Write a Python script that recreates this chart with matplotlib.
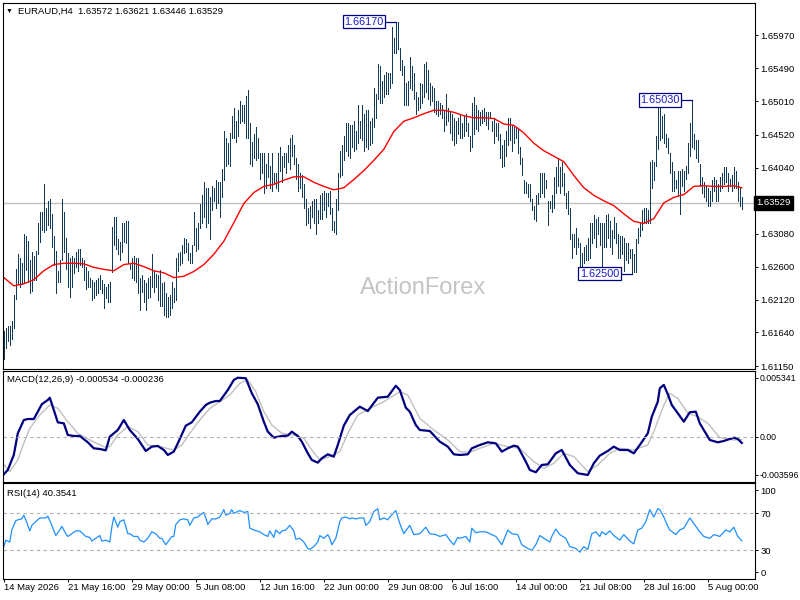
import matplotlib
matplotlib.use("agg")
import matplotlib.pyplot as plt

plt.rcParams['font.family'] = ['Liberation Sans', 'DejaVu Sans']

SYMBOL = "EURAUD,H4"
LAST_OHLC = ["1.63572", "1.63621", "1.63446", "1.63529"]
LAST_CLOSE = 1.63529

# H4 bars, high / low (370 bars)
HIGH = [
    1.6166, 1.6170, 1.6173, 1.6173, 1.6181, 1.6218, 1.6257, 1.6279, 1.6272, 1.6266,
    1.6307, 1.6304, 1.6298, 1.6269, 1.6282, 1.6275, 1.6283, 1.6324, 1.6340, 1.6339,
    1.6381, 1.6346, 1.6355, 1.6359, 1.6337, 1.6304, 1.6283, 1.6253, 1.6270, 1.6359,
    1.6340, 1.6302, 1.6280, 1.6272, 1.6275, 1.6273, 1.6282, 1.6285, 1.6286, 1.6273,
    1.6269, 1.6259, 1.6253, 1.6244, 1.6241, 1.6237, 1.6241, 1.6243, 1.6248, 1.6240,
    1.6234, 1.6230, 1.6234, 1.6238, 1.6318, 1.6332, 1.6332, 1.6301, 1.6296, 1.6324,
    1.6323, 1.6326, 1.6326, 1.6265, 1.6272, 1.6275, 1.6273, 1.6273, 1.6244, 1.6248,
    1.6241, 1.6236, 1.6243, 1.6246, 1.6278, 1.6253, 1.6250, 1.6248, 1.6255, 1.6236,
    1.6237, 1.6221, 1.6216, 1.6219, 1.6238, 1.6229, 1.6272, 1.6280, 1.6282, 1.6292,
    1.6302, 1.6301, 1.6294, 1.6280,
    1.6291, 1.6339, 1.6317, 1.6324, 1.6352, 1.6365, 1.6383, 1.6375, 1.6375, 1.6361,
    1.6378, 1.6374, 1.6386, 1.6383, 1.6383, 1.6403, 1.6458, 1.6448, 1.6440, 1.6455,
    1.6480, 1.6491, 1.6473, 1.6489, 1.6501, 1.6496, 1.6495, 1.6509, 1.6517, 1.6470,
    1.6441, 1.6454, 1.6463, 1.6448, 1.6426, 1.6425, 1.6426, 1.6410, 1.6425, 1.6407,
    1.6426, 1.6396, 1.6397, 1.6426, 1.6435, 1.6421, 1.6426, 1.6425, 1.6437, 1.6447,
    1.6452, 1.6437, 1.6419, 1.6410, 1.6396, 1.6393, 1.6381, 1.6359, 1.6345, 1.6349,
    1.6356, 1.6359, 1.6359, 1.6343, 1.6364, 1.6368, 1.6371, 1.6367, 1.6368, 1.6371,
    1.6346, 1.6327, 1.6359, 1.6396, 1.6429, 1.6437, 1.6451, 1.6470, 1.6469, 1.6466,
    1.6467, 1.6473, 1.6458, 1.6495, 1.6473, 1.6496, 1.6483, 1.6488, 1.6489, 1.6473,
    1.6476, 1.6521, 1.6512, 1.6556,
    1.6553, 1.6531, 1.6539, 1.6544, 1.6543, 1.6542, 1.6609, 1.6593, 1.6617, 1.6616,
    1.6579, 1.6561, 1.6553, 1.6528, 1.6531, 1.6565, 1.6553, 1.6542, 1.6514, 1.6507,
    1.6528, 1.6527, 1.6556, 1.6558, 1.6546, 1.6528, 1.6524, 1.6521, 1.6502, 1.6502,
    1.6499, 1.6495, 1.6488, 1.6512, 1.6491, 1.6485, 1.6483, 1.6476, 1.6473, 1.6477,
    1.6483, 1.6470, 1.6480, 1.6483, 1.6470, 1.6451, 1.6499, 1.6507, 1.6495, 1.6488,
    1.6485, 1.6488, 1.6491, 1.6486, 1.6485, 1.6485, 1.6473, 1.6476, 1.6470, 1.6469,
    1.6454, 1.6437, 1.6444, 1.6458, 1.6477, 1.6476, 1.6466, 1.6463, 1.6463, 1.6461,
    1.6434, 1.6419, 1.6386, 1.6383, 1.6381, 1.6381, 1.6359, 1.6349, 1.6364, 1.6368,
    1.6396, 1.6396, 1.6396, 1.6386, 1.6356, 1.6356, 1.6364, 1.6390, 1.6405, 1.6419,
    1.6405, 1.6412, 1.6397, 1.6368,
    1.6371, 1.6345, 1.6308, 1.6308, 1.6317, 1.6302, 1.6294, 1.6280, 1.6288, 1.6291,
    1.6302, 1.6323, 1.6324, 1.6335, 1.6330, 1.6332, 1.6324, 1.6323, 1.6323, 1.6335,
    1.6337, 1.6327, 1.6313, 1.6332, 1.6324, 1.6308, 1.6305, 1.6305, 1.6302, 1.6294,
    1.6294, 1.6286, 1.6286, 1.6279, 1.6301, 1.6317, 1.6324, 1.6342, 1.6346, 1.6345,
    1.6342, 1.6412, 1.6415, 1.6412, 1.6451, 1.6492, 1.6491, 1.6480, 1.6483, 1.6454,
    1.6448, 1.6426, 1.6412, 1.6400, 1.6386, 1.6400, 1.6400, 1.6403, 1.6400, 1.6407,
    1.6440, 1.6470, 1.6503, 1.6454, 1.6444, 1.6444, 1.6410, 1.6390, 1.6383, 1.6378,
    1.6375, 1.6371, 1.6386, 1.6390, 1.6386, 1.6381, 1.6390, 1.6396, 1.6405, 1.6405,
    1.6396, 1.6388, 1.6393, 1.6405, 1.6400, 1.6383, 1.6375, 1.63621,
]
LOW = [
    1.6125, 1.6141, 1.6151, 1.6146, 1.6155, 1.6170, 1.6213, 1.6234, 1.6230, 1.6234,
    1.6237, 1.6255, 1.6238, 1.6222, 1.6225, 1.6241, 1.6240, 1.6279, 1.6296, 1.6313,
    1.6310, 1.6314, 1.6321, 1.6316, 1.6288, 1.6263, 1.6222, 1.6237, 1.6238, 1.6269,
    1.6282, 1.6257, 1.6230, 1.6216, 1.6231, 1.6251, 1.6260, 1.6254, 1.6263, 1.6259,
    1.6240, 1.6228, 1.6230, 1.6231, 1.6212, 1.6215, 1.6219, 1.6222, 1.6227, 1.6221,
    1.6200, 1.6215, 1.6209, 1.6209, 1.6252, 1.6292, 1.6286, 1.6279, 1.6269, 1.6282,
    1.6296, 1.6295, 1.6265, 1.6256, 1.6243, 1.6240, 1.6238, 1.6222, 1.6197, 1.6223,
    1.6209, 1.6197, 1.6215, 1.6216, 1.6230, 1.6223, 1.6230, 1.6211, 1.6202, 1.6202,
    1.6190, 1.6187, 1.6187, 1.6190, 1.6200, 1.6209, 1.6212, 1.6253, 1.6263, 1.6266,
    1.6280, 1.6282, 1.6270, 1.6265,
    1.6266, 1.6291, 1.6283, 1.6286, 1.6317, 1.6324, 1.6332, 1.6318, 1.6323, 1.6300,
    1.6342, 1.6356, 1.6346, 1.6353, 1.6332, 1.6361, 1.6386, 1.6407, 1.6410, 1.6407,
    1.6447, 1.6448, 1.6441, 1.6451, 1.6469, 1.6473, 1.6470, 1.6448, 1.6448, 1.6410,
    1.6407, 1.6419, 1.6415, 1.6419, 1.6388, 1.6397, 1.6368, 1.6375, 1.6390, 1.6375,
    1.6371, 1.6381, 1.6375, 1.6371, 1.6400, 1.6383, 1.6405, 1.6396, 1.6412, 1.6403,
    1.6422, 1.6410, 1.6388, 1.6371, 1.6375, 1.6361, 1.6346, 1.6320, 1.6323, 1.6317,
    1.6332, 1.6323, 1.6307, 1.6323, 1.6330, 1.6330, 1.6342, 1.6332, 1.6349, 1.6337,
    1.6313, 1.6310, 1.6308, 1.6342, 1.6390, 1.6393, 1.6415, 1.6429, 1.6422, 1.6419,
    1.6434, 1.6429, 1.6432, 1.6440, 1.6447, 1.6444, 1.6429, 1.6434, 1.6432, 1.6437,
    1.6440, 1.6463, 1.6477, 1.6505,
    1.6499, 1.6499, 1.6507, 1.6512, 1.6512, 1.6520, 1.6528, 1.6572, 1.6572, 1.6578,
    1.6546, 1.6539, 1.6495, 1.6495, 1.6495, 1.6521, 1.6517, 1.6505, 1.6483, 1.6488,
    1.6491, 1.6499, 1.6507, 1.6514, 1.6505, 1.6495, 1.6502, 1.6485, 1.6483, 1.6480,
    1.6483, 1.6476, 1.6458, 1.6466, 1.6473, 1.6455, 1.6444, 1.6437, 1.6440, 1.6454,
    1.6447, 1.6447, 1.6451, 1.6458, 1.6451, 1.6429, 1.6434, 1.6454, 1.6461, 1.6458,
    1.6466, 1.6469, 1.6473, 1.6466, 1.6461, 1.6476, 1.6458, 1.6440, 1.6451, 1.6444,
    1.6419, 1.6405, 1.6407, 1.6422, 1.6437, 1.6444, 1.6429, 1.6440, 1.6447, 1.6426,
    1.6410, 1.6393, 1.6368, 1.6367, 1.6361, 1.6356, 1.6342, 1.6330, 1.6327, 1.6352,
    1.6361, 1.6368, 1.6361, 1.6375, 1.6320, 1.6345, 1.6339, 1.6346, 1.6368, 1.6378,
    1.6367, 1.6378, 1.6364, 1.6346,
    1.6337, 1.6301, 1.6273, 1.6288, 1.6279, 1.6288, 1.6259, 1.6252, 1.6265, 1.6269,
    1.6269, 1.6273, 1.6295, 1.6302, 1.6288, 1.6308, 1.6291, 1.6259, 1.6288, 1.6288,
    1.6302, 1.6288, 1.6279, 1.6302, 1.6294, 1.6273, 1.6273, 1.6279, 1.6253, 1.6269,
    1.6266, 1.6272, 1.6250, 1.6252, 1.6252, 1.6294, 1.6305, 1.6313, 1.6324, 1.6323,
    1.6324, 1.6324, 1.6375, 1.6386, 1.6407, 1.6432, 1.6444, 1.6448, 1.6440, 1.6434,
    1.6426, 1.6397, 1.6371, 1.6371, 1.6375, 1.6364, 1.6337, 1.6378, 1.6371, 1.6388,
    1.6396, 1.6422, 1.6434, 1.6432, 1.6419, 1.6412, 1.6378, 1.6367, 1.6361, 1.6356,
    1.6349, 1.6349, 1.6356, 1.6371, 1.6356, 1.6356, 1.6371, 1.6375, 1.6381, 1.6383,
    1.6371, 1.6378, 1.6371, 1.6375, 1.6374, 1.6356, 1.6349, 1.63446,
]

# red moving average, read every 5 bars
MA_IDX = list(range(0, 366, 5)) + [369]
MA = [
    1.6244, 1.6232, 1.6235, 1.6241, 1.6254, 1.6263, 1.6265, 1.6265, 1.6264, 1.6259,
    1.6256, 1.6254, 1.6263, 1.6265, 1.6260, 1.6254, 1.6251, 1.6244, 1.6246, 1.6253,
    1.6263, 1.6278, 1.6297, 1.6324, 1.6352, 1.6368, 1.6377, 1.6380, 1.6386, 1.6391,
    1.6391, 1.6383, 1.6377, 1.6372, 1.6375, 1.6387, 1.6400, 1.6415, 1.6431, 1.6457,
    1.6472, 1.6477, 1.6483, 1.6488, 1.6488, 1.6485, 1.6480, 1.6477, 1.6477, 1.6476,
    1.6468, 1.6466, 1.6455, 1.6440, 1.6429, 1.6421, 1.6413, 1.6393, 1.6375, 1.6364,
    1.6356, 1.6349, 1.6337, 1.6326, 1.6323, 1.6330, 1.6353, 1.6361, 1.6365, 1.6377,
    1.6378, 1.6377, 1.6377, 1.6378, 1.6375,
]

# MACD(12,26,9) main line
MACD_IDX = [
    0, 2, 5, 7, 10, 12, 15, 17, 19, 22, 23, 25, 27, 30, 32, 35, 38, 42, 45, 48,
    51, 53, 57, 60, 63, 67, 71, 74, 77, 80, 82, 85, 87, 91, 94, 98, 101, 103, 106, 108,
    112, 115, 117, 121, 124, 127, 130, 132, 135, 139, 142, 144, 147, 149, 152, 154, 157, 159, 162, 165,
    167, 170, 173, 178, 182, 187, 192, 196, 198, 201, 203, 206, 208, 213, 218, 222, 225, 228, 232, 234,
    238, 242, 246, 249, 252, 255, 257, 261, 263, 266, 269, 272, 276, 279, 283, 287, 292, 295, 298, 302,
    305, 308, 312, 315, 318, 322, 324, 327, 328, 330, 332, 334, 337, 340, 343, 346, 348, 351, 353, 357,
    360, 365, 367, 369,
]
MACD = [
    -0.00336, -0.00297, -0.00162, 0.00033, 0.00153, 0.00162, 0.00162, 0.00228, 0.00295, 0.00333,
    0.00354, 0.00243, 0.00132, 0.00123, 0.00018, 0.00009, 0.00009, -0.00048, -0.00102, -0.00108,
    -0.00120, 0.00003, 0.00063, 0.00153, 0.00063, -0.00018, -0.00126, -0.00087, -0.00081, -0.00117,
    -0.00162, -0.00132, -0.00057, 0.00102, 0.00132, 0.00228, 0.00288, 0.00309, 0.00324, 0.00324,
    0.00423, 0.00514, 0.00534, 0.00529, 0.00394, 0.00295, 0.00138, 0.00048, -0.00006, 0.00009,
    0.00012, 0.00048, 0.00009, -0.00042, -0.00147, -0.00207, -0.00231, -0.00192, -0.00156, -0.00177,
    -0.00072, 0.00102, 0.00198, 0.00273, 0.00234, 0.00354, 0.00363, 0.00462, 0.00423, 0.00264,
    0.00228, 0.00108, 0.00063, 0.00054, -0.00042, -0.00087, -0.00156, -0.00162, -0.00156, -0.00102,
    -0.00072, -0.00048, -0.00057, -0.00132, -0.00102, -0.00078, -0.00087, -0.00222, -0.00297, -0.00318,
    -0.00252, -0.00246, -0.00147, -0.00117, -0.00252, -0.00327, -0.00342, -0.00237, -0.00168, -0.00126,
    -0.00087, -0.00117, -0.00117, -0.00147, -0.00072, 0.00033, 0.00183, 0.00318, 0.00439, 0.00469,
    0.00385, 0.00288, 0.00214, 0.00138, 0.00223, 0.00228, 0.00123, 0.00033, -0.00027, -0.00048,
    -0.00036, -0.00006, -0.00018, -0.000534,
]

# MACD signal line
SIG_IDX = [
    0, 3, 7, 10, 13, 18, 23, 27, 32, 37, 43, 50, 53, 57, 62, 67, 72, 78, 85, 89,
    93, 98, 103, 108, 113, 118, 122, 126, 130, 134, 139, 145, 150, 154, 158, 163, 168, 172, 177, 183,
    190, 198, 202, 208, 215, 222, 228, 233, 238, 245, 252, 258, 265, 270, 275, 280, 285, 292, 297, 303,
    308, 315, 322, 325, 330, 333, 337, 342, 347, 352, 358, 365, 369,
]
SIGNAL = [
    -0.00246, -0.00312, -0.00207, -0.00057, 0.00078, 0.00198, 0.00288, 0.00258, 0.00138, 0.00033,
    -0.00027, -0.00087, -0.00087, 0.00018, 0.00093, 0.00048, -0.00072, -0.00087, -0.00117, -0.00072,
    0.00033, 0.00153, 0.00258, 0.00318, 0.00378, 0.00484, 0.00514, 0.00408, 0.00228, 0.00108,
    0.00033, 0.00018, -0.00012, -0.00117, -0.00207, -0.00177, -0.00132, 0.00033, 0.00198, 0.00258,
    0.00318, 0.00408, 0.00378, 0.00168, 0.00063, -0.00027, -0.00132, -0.00138, -0.00102, -0.00057,
    -0.00087, -0.00102, -0.00222, -0.00282, -0.00237, -0.00147, -0.00177, -0.00312, -0.00252, -0.00147,
    -0.00102, -0.00117, -0.00072, 0.00048, 0.00288, 0.00394, 0.00348, 0.00214, 0.00183, 0.00123,
    -0.00006, -0.00027, -0.000236,
]

# RSI(14)
RSI_IDX = [
    0, 1, 3, 4, 6, 7, 9, 10, 11, 12, 13, 14, 16, 18, 19, 21, 22, 24, 26, 28,
    29, 31, 32, 34, 36, 38, 41, 43, 44, 46, 48, 49, 51, 53, 54, 55, 57, 58, 60, 62,
    63, 65, 67, 68, 70, 72, 74, 76, 78, 79, 81, 82, 84, 85, 86, 88, 90, 92, 93, 95,
    97, 98, 100, 101, 102, 104, 106, 108, 110, 111, 113, 114, 115, 117, 118, 120, 122, 123, 125, 128,
    130, 132, 133, 135, 136, 138, 139, 141, 143, 145, 146, 148, 150, 152, 153, 155, 157, 158, 160, 162,
    163, 164, 166, 168, 169, 171, 173, 174, 176, 178, 180, 181, 183, 185, 187, 188, 190, 192, 193, 196,
    198, 200, 202, 203, 205, 208, 211, 213, 216, 218, 221, 223, 225, 227, 228, 231, 233, 234, 236, 238,
    241, 243, 246, 249, 252, 254, 257, 259, 262, 264, 266, 268, 270, 273, 274, 276, 278, 281, 283, 286,
    288, 290, 292, 294, 296, 298, 299, 301, 303, 305, 308, 310, 313, 315, 317, 319, 321, 323, 325, 327,
    328, 330, 332, 333, 336, 338, 340, 343, 345, 348, 350, 353, 355, 358, 361, 363, 365, 367, 369,
]
RSI = [
    34, 41, 39, 52, 62, 63, 64, 68, 63, 57, 51, 57, 61, 65, 65, 65, 67, 57, 46, 52,
    56, 48, 45, 48, 51, 51, 45, 44, 40, 43, 46, 40, 41, 39, 55, 66, 55, 61, 63, 48,
    48, 45, 45, 41, 39, 43, 50, 48, 43, 43, 36, 39, 45, 45, 58, 63, 64, 63, 57, 65,
    66, 68, 71, 65, 58, 64, 64, 66, 74, 68, 70, 74, 70, 72, 73, 71, 72, 54, 52, 50,
    47, 45, 51, 44, 52, 48, 51, 52, 57, 51, 42, 43, 39, 32, 31, 34, 39, 46, 43, 47,
    43, 36, 43, 61, 65, 66, 64, 65, 64, 65, 65, 57, 61, 72, 75, 63, 65, 63, 66, 73,
    59, 48, 54, 57, 47, 48, 55, 48, 47, 45, 47, 41, 36, 44, 43, 45, 39, 54, 49, 50,
    50, 48, 45, 36, 52, 48, 47, 36, 32, 30, 36, 46, 43, 39, 45, 53, 47, 43, 34, 32,
    28, 34, 31, 48, 50, 45, 50, 47, 51, 46, 41, 47, 40, 37, 52, 54, 61, 74, 66, 75,
    74, 66, 56, 52, 47, 52, 54, 65, 59, 50, 45, 43, 47, 45, 52, 50, 55, 45, 40.35,
]

PRICE_TICKS = [1.65970, 1.65490, 1.65010, 1.64520, 1.64040, 1.63080, 1.62600, 1.62120, 1.61640, 1.61150]
MACD_TICKS = [0.005341, 0.0, -0.00342]
MACD_TICK_LABELS = ["0.005341", "0.00", "-0.003596"]
RSI_TICKS = [94.9, 70, 30, 6.2]
RSI_TICK_LABELS = ["100", "70", "30", "0"]
DATE_TICKS = [0, 32, 64, 96, 128, 160, 192, 224, 256, 288, 320, 352]
DATE_LABELS = ["14 May 2026", "21 May 16:00", "29 May 00:00", "5 Jun 08:00", "12 Jun 16:00",
               "22 Jun 00:00", "29 Jun 08:00", "6 Jul 16:00", "14 Jul 00:00", "21 Jul 08:00",
               "28 Jul 16:00", "5 Aug 00:00"]
# swing labels: bar index, price, text, box right edge (bar units)
SWINGS = [(196, 1.66170, "1.66170", 191.3), (344, 1.65030, "1.65030", 339.3), (314, 1.62500, "1.62500", 308.9)]

BAR_COLOR = "#143c5a"
W, H = 800, 600
FS = 6.8


def px_box(left, top, right, bottom):
    return [left / W, 1 - bottom / H, (right - left) / W, (bottom - top) / H]


fig = plt.figure(figsize=(8, 6), dpi=100)
ax = fig.add_axes(px_box(2.5, 2.5, 754.5, 368.5))
ax_macd = fig.add_axes(px_box(2.5, 370.5, 754.5, 481.5))
ax_rsi = fig.add_axes(px_box(2.5, 483, 754.5, 579))

idx = list(range(len(HIGH)))
ax.vlines(idx, LOW, HIGH, color=BAR_COLOR, linewidth=0.7, antialiased=False)
ax.plot(MA_IDX, MA, color="#ff0000", linewidth=1)
ax.axhline(LAST_CLOSE, color="#c0c0c0", linewidth=1, zorder=0)
ax.set_ylim(1.61115, 1.66451)
ax.set_yticks(PRICE_TICKS, [f"{v:.5f}" for v in PRICE_TICKS])
ax.text(1.003, LAST_CLOSE, f"{LAST_CLOSE:.5f}", transform=ax.get_yaxis_transform(), ha="left", va="center",
        color="white", fontsize=FS, bbox=dict(boxstyle="square,pad=0.25", facecolor="black", edgecolor="black"))

for bar, price, label, edge in SWINGS:
    ax.plot([edge, bar], [price, price], color="#000080", linewidth=0.9)
    ax.text(edge - 1.3, price, label, ha="right", va="center", fontsize=7.8, color="#1a1ad0",
            bbox=dict(boxstyle="square,pad=0.15", facecolor="white", edgecolor="#000080", linewidth=0.9))

fig.text(423 / W, 1 - 288 / H, "ActionForex", ha="center", va="center", fontsize=17, color="#c4c4c4")
fig.text(6 / W, 1 - 11 / H, "\u25bc", ha="left", va="center", fontsize=5, color="black")
fig.text(18 / W, 1 - 11 / H, SYMBOL + "  " + " ".join(LAST_OHLC), ha="left", va="center", fontsize=FS)

ax_macd.plot(SIG_IDX, SIGNAL, color="#c0c0c0", linewidth=1)
ax_macd.plot(MACD_IDX, MACD, color="#000080", linewidth=1.6)
ax_macd.axhline(0, color="#b0b0b0", linewidth=0.8, linestyle=(0, (3, 3)))
ax_macd.set_ylim(-0.00401, 0.00599)
ax_macd.set_yticks(MACD_TICKS, MACD_TICK_LABELS)
fig.text(7 / W, 1 - 380 / H, "MACD(12,26,9) -0.000534 -0.000236", ha="left", va="center", fontsize=FS)

ax_rsi.plot(RSI_IDX, RSI, color="#1e90ff", linewidth=0.9)
for lvl in (70, 30):
    ax_rsi.axhline(lvl, color="#b0b0b0", linewidth=0.8, linestyle=(0, (3, 3)))
ax_rsi.set_ylim(-1.0, 102.8)
ax_rsi.set_yticks(RSI_TICKS, RSI_TICK_LABELS)
fig.text(7 / W, 1 - 493 / H, "RSI(14) 40.3541", ha="left", va="center", fontsize=FS)

for a in (ax, ax_macd, ax_rsi):
    a.set_xlim(-0.65, 375.35)
    a.yaxis.tick_right()
    a.tick_params(axis="y", labelsize=FS, length=2.2, width=0.7, pad=2)
    for s in a.spines.values():
        s.set_linewidth(0.8)
        s.set_color("black")
ax_macd.tick_params(axis="y", labelsize=6.3, pad=1.5)
ax.set_xticks([])
ax_macd.set_xticks([])
ax_rsi.set_xticks(DATE_TICKS, DATE_LABELS)
ax_rsi.tick_params(axis="x", labelsize=FS, length=2.2, width=0.7, pad=1)
for lab in ax_rsi.get_xticklabels():
    lab.set_horizontalalignment("left")

fig.savefig("out.png", dpi=100)
